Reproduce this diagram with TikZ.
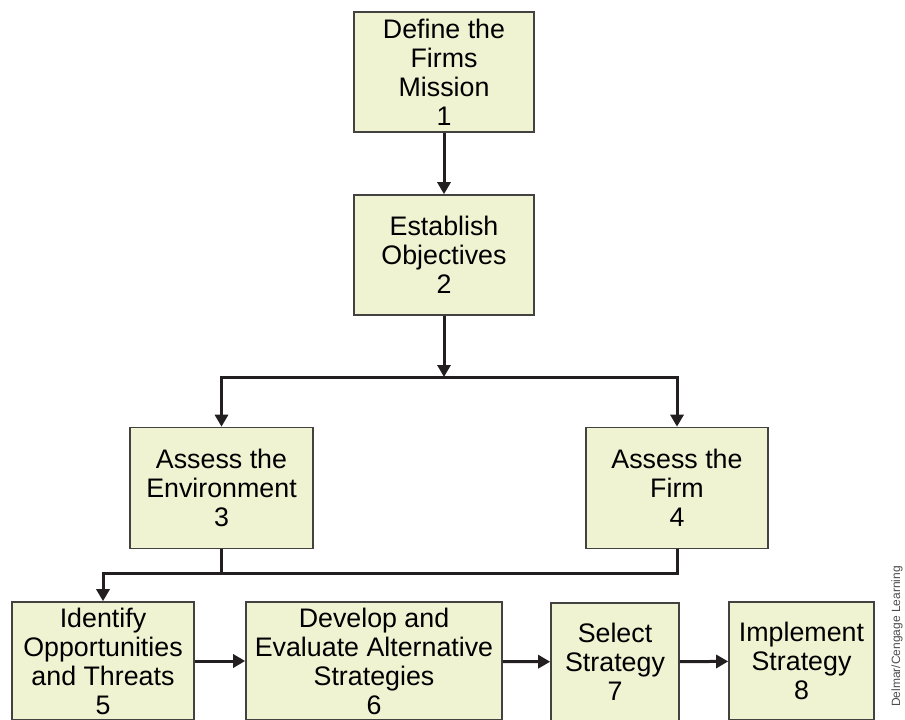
\documentclass[tikz,border=0pt]{standalone}
\usepackage{fontspec}
\setmainfont{Liberation Sans}
\usetikzlibrary{arrows.meta,positioning,calc}
\definecolor{ink}{HTML}{231F20}
\definecolor{wash}{HTML}{F0F3D2}
\tikzset{box/.style={draw=ink!85,line width=1.6pt,fill=wash,align=center,inner sep=0pt,font=\fontsize{26.8}{29}\selectfont},
  arr/.style={-{Triangle[length=12pt,width=13pt]},line width=3pt,draw=ink},
  link/.style={line width=3pt,draw=ink}}

\begin{document}
\begin{tikzpicture}[x=1pt,y=-1pt]
\useasboundingbox (0,0) rectangle (905,720);
\node[box,minimum width=180pt,minimum height=120pt] (m) at (444,72) {Define the\\Firms\\Mission\\1};
\node[box,minimum width=180pt,minimum height=120pt] (o) at (444,255) {Establish\\Objectives\\2};
\node[box,minimum width=183pt,minimum height=121pt] (env) at (221.5,488) {Assess the\\Environment\\3};
\node[box,minimum width=182pt,minimum height=121pt] (firm) at (677,488) {Assess the\\Firm\\4};
\node[box,minimum width=182pt,minimum height=118pt] (opp) at (103,661) {Identify\\Opportunities\\and Threats\\5};
\node[box,minimum width=256pt,minimum height=118pt] (dev) at (374,661) {Develop and\\Evaluate Alternative\\Strategies\\6};
\node[box,minimum width=128pt,minimum height=118pt] (sel) at (615,662) {Select\\Strategy\\7};
\node[box,minimum width=145pt,minimum height=118pt] (imp) at (801.5,661) {Implement\\Strategy\\8};
\node[rotate=90,anchor=east,text=black!70,font=\fontsize{12}{13}\selectfont,inner sep=0pt] (src) at (897,566) {Delmar/Cengage Learning};
\coordinate (j) at (444,377);
\coordinate (k) at (103,573);
\draw[arr](m)--(o);
\draw[arr](o)--(j);
\draw[arr](j)-|(env.north);
\draw[arr](j)-|(firm.north);
\draw[link](env.south)--(env.south|-k);
\draw[arr](firm.south)|-(k)--(opp.north);
\foreach \x/\y in {opp/dev,dev/sel,sel/imp}{\draw[arr](\x)--(\y);}
\end{tikzpicture}
\end{document}
